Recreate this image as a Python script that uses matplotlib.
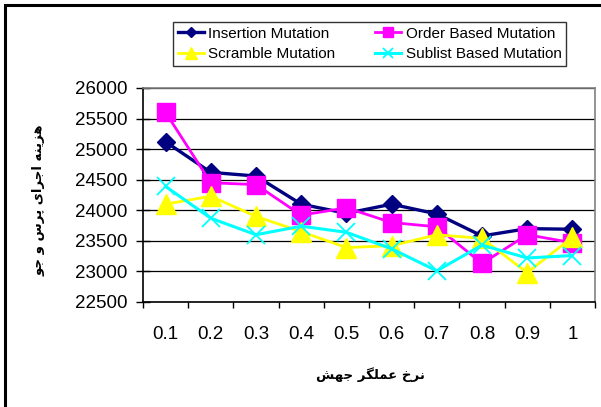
import matplotlib
matplotlib.use("Agg")
import matplotlib.pyplot as plt
from matplotlib.patches import Rectangle
from matplotlib.ticker import FixedLocator, NullFormatter

# ---- data ----
categories = ["0.1", "0.2", "0.3", "0.4", "0.5", "0.6", "0.7", "0.8", "0.9", "1"]
insertion = [25120, 24620, 24560, 24100, 23950, 24100, 23940, 23580, 23700, 23690]
order_based = [25600, 24450, 24420, 23920, 24040, 23800, 23730, 23130, 23600, 23470]
scramble = [24100, 24230, 23900, 23650, 23390, 23420, 23600, 23540, 22980, 23560]
sublist = [24390, 23870, 23600, 23740, 23640, 23370, 23010, 23430, 23220, 23260]
series_names = ["Insertion Mutation", "Order Based Mutation",
                "Scramble Mutation", "Sublist Based Mutation"]
y_ticks = [22500, 23000, 23500, 24000, 24500, 25000, 25500, 26000]
y_label_fa = "هزینه اجرای پرس و جو"
x_label_fa = "نرخ عملگر جهش"

# ---- minimal Persian shaping (presentation forms) ----
FORMS = {
    'ا': (0xFE8D, 0xFE8E, None, None),
    'ج': (0xFE9D, 0xFE9E, 0xFE9F, 0xFEA0),
    'خ': (0xFEA5, 0xFEA6, 0xFEA7, 0xFEA8),
    'ر': (0xFEAD, 0xFEAE, None, None),
    'ز': (0xFEAF, 0xFEB0, None, None),
    'س': (0xFEB1, 0xFEB2, 0xFEB3, 0xFEB4),
    'ش': (0xFEB5, 0xFEB6, 0xFEB7, 0xFEB8),
    'ع': (0xFEC9, 0xFECA, 0xFECB, 0xFECC),
    'ل': (0xFEDD, 0xFEDE, 0xFEDF, 0xFEE0),
    'م': (0xFEE1, 0xFEE2, 0xFEE3, 0xFEE4),
    'ن': (0xFEE5, 0xFEE6, 0xFEE7, 0xFEE8),
    'ه': (0xFEE9, 0xFEEA, 0xFEEB, 0xFEEC),
    'و': (0xFEED, 0xFEEE, None, None),
    'ی': (0xFBFC, 0xFBFD, 0xFBFE, 0xFBFF),
    'پ': (0xFB56, 0xFB57, 0xFB58, 0xFB59),
    'گ': (0xFB92, 0xFB93, 0xFB94, 0xFB95),
}


def shape(text):
    out = []
    n = len(text)
    for i, ch in enumerate(text):
        if ch not in FORMS:
            out.append(ch)
            continue
        iso, fin, ini, med = FORMS[ch]
        prev = text[i - 1] if i > 0 else None
        nxt = text[i + 1] if i < n - 1 else None
        join_prev = prev in FORMS and FORMS[prev][2] is not None
        join_next = ini is not None and nxt in FORMS
        if join_prev and join_next:
            code = med
        elif join_prev:
            code = fin
        elif join_next:
            code = ini
        else:
            code = iso
        out.append(chr(code))
    return "".join(out)[::-1]


plt.rcParams['font.family'] = ['Liberation Sans', 'DejaVu Sans']

fig = plt.figure(figsize=(6.01, 4.07), dpi=100)
fig.patch.set_facecolor('white')

ax = fig.add_axes([143 / 601, 1 - 302 / 407, (595 - 143) / 601, (302 - 88) / 407])

x = list(range(len(categories)))
styles = [
    dict(color='#000080', marker='D', markersize=9, lw=2.4),
    dict(color='#FF00FF', marker='s', markersize=13, lw=2.0),
    dict(color='#FFFF00', marker='^', markersize=14, lw=2.0),
    dict(color='#00FFFF', marker='x', markersize=13, lw=2.2, mew=1.3),
]
handles = []
for vals, name, st in zip([insertion, order_based, scramble, sublist], series_names, styles):
    h, = ax.plot(x, vals, label=name, clip_on=False, **st)
    handles.append(h)

ax.set_xlim(-0.5, len(categories) - 0.5)
ax.set_ylim(y_ticks[0], y_ticks[-1])
ax.set_yticks(y_ticks)
ax.set_yticklabels([str(v) for v in y_ticks], fontsize=13.5)
ax.yaxis.grid(True, color='black', lw=0.9)
ax.set_axisbelow(True)

# x: ticks between categories, labels at centres
ax.xaxis.set_major_locator(FixedLocator([i - 0.5 for i in range(len(categories) + 1)]))
ax.xaxis.set_major_formatter(NullFormatter())
ax.xaxis.set_minor_locator(FixedLocator(x))
ax.set_xticklabels(categories, minor=True, fontsize=13.5)
ax.tick_params(axis='x', which='major', direction='out', length=4.5, width=1, color='black')
ax.tick_params(axis='x', which='minor', length=0, pad=17)
ax.tick_params(axis='y', direction='inout', length=10.5, width=1, pad=6, color='black')

for side in ['top', 'right']:
    ax.spines[side].set_color('#808080')
    ax.spines[side].set_linewidth(1.2)
for side in ['left', 'bottom']:
    ax.spines[side].set_color('black')
    ax.spines[side].set_linewidth(1.2)

fig.text(39 / 601, 1 - 200 / 407, shape(y_label_fa), rotation=90, ha='center', va='center',
         fontsize=9.5, fontweight='bold', family=['DejaVu Sans'])
fig.text(370 / 601, 1 - 375 / 407, shape(x_label_fa), ha='center', va='center',
         fontsize=9.5, fontweight='bold', family=['DejaVu Sans'])

leg_handles = [handles[0], handles[2], handles[1], handles[3]]
leg = fig.legend(leg_handles, [h.get_label() for h in leg_handles], ncol=2,
                 loc='upper left', bbox_to_anchor=(173 / 601, 1 - 22 / 407),
                 frameon=True, fancybox=False, shadow=False, fontsize=11,
                 borderaxespad=0, borderpad=0.3, handlelength=1.7, handletextpad=0.3,
                 columnspacing=2.6, labelspacing=0.45, markerscale=0.6)
leg.get_frame().set_edgecolor('black')
leg.get_frame().set_linewidth(1.0)

# outer chart frame
fig.patches.append(Rectangle((5 / 601, -0.1), 1.2, 1.1 - 5 / 407, transform=fig.transFigure,
                             fill=False, edgecolor='black', lw=2.2))

fig.savefig('out.png', dpi=100)
